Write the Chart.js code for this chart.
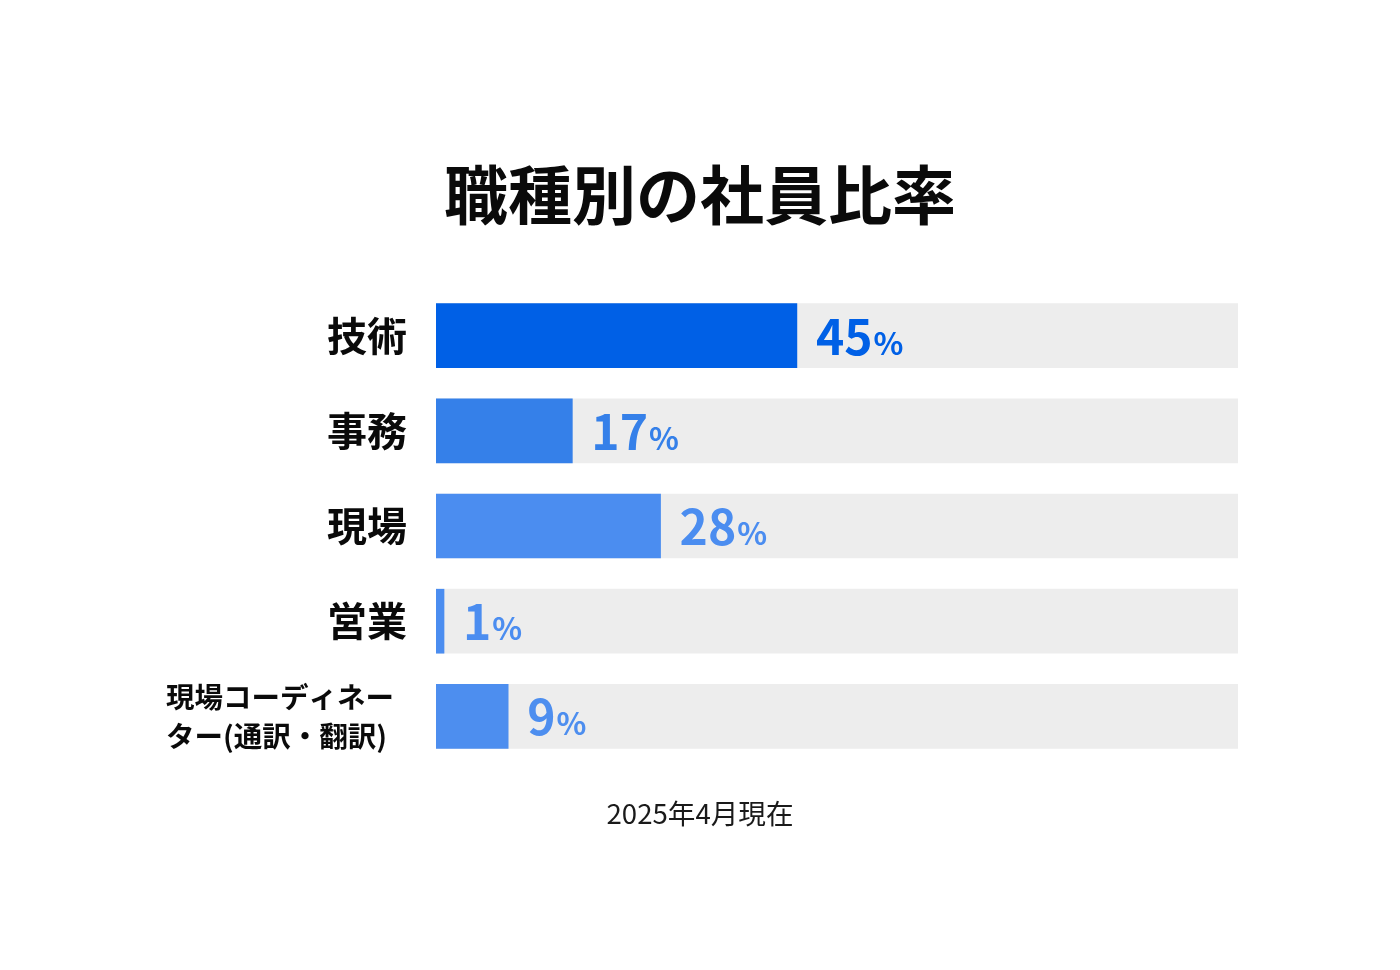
<!DOCTYPE html>
<html lang="ja">
<head>
<meta charset="utf-8">
<title>職種別の社員比率</title>
<script src="https://cdn.jsdelivr.net/npm/chart.js@4"></script>
<style>
  html, body { margin: 0; padding: 0; background: #fff; }
  #wrap { width: 1400px; height: 970px; }
</style>
</head>
<body>
<div id="wrap"><canvas id="chart"></canvas></div>
<script>
// data
const titleText = '職種別の社員比率';
const noteText = '2025年4月現在';
const categories = ['技術', '事務', '現場', '営業', ['現場コーディネー', 'ター(通訳・翻訳)']];
const shares = [45, 17, 28, 1, 9];
const trackMax = [100, 100, 100, 100, 100];
const barColors = ['#0060E6', '#3580E9', '#4B8DF0', '#4B8DF0', '#4D8EEF'];

const FONT = '"Noto Sans CJK JP", "Noto Sans", sans-serif';

// title on top and note below, centred on the whole page
const pageTexts = {
  id: 'pageTexts',
  afterDraw(chart) {
    const ctx = chart.ctx;
    const cx = chart.width / 2;
    ctx.save();
    ctx.textAlign = 'center';
    ctx.textBaseline = 'middle';
    ctx.fillStyle = '#0a0a0a';
    ctx.font = 'bold 64px ' + FONT;
    ctx.fillText(titleText, cx, 195);
    ctx.fillStyle = '#1a1a1a';
    ctx.font = '27.6px ' + FONT;
    ctx.fillText(noteText, cx, 814);
    ctx.restore();
  }
};

// category names to the left of the bars
const categoryLabels = {
  id: 'categoryLabels',
  afterDraw(chart) {
    const ctx = chart.ctx;
    const y = chart.scales.y;
    ctx.save();
    ctx.fillStyle = '#0a0a0a';
    ctx.textBaseline = 'middle';
    categories.forEach((label, i) => {
      const cy = y.getPixelForValue(i);
      if (Array.isArray(label)) {
        ctx.font = 'bold 28.5px ' + FONT;
        ctx.textAlign = 'left';
        const lh = 39;
        const top = cy - (label.length - 1) * lh / 2;
        label.forEach((line, j) => ctx.fillText(line, 166, top + j * lh));
      } else {
        ctx.font = 'bold 40px ' + FONT;
        ctx.textAlign = 'right';
        ctx.fillText(label, 407, cy);
      }
    });
    ctx.restore();
  }
};

// "45%" style labels after each bar
const valueLabels = {
  id: 'valueLabels',
  afterDatasetsDraw(chart) {
    const ctx = chart.ctx;
    const meta = chart.getDatasetMeta(0);
    ctx.save();
    ctx.textAlign = 'left';
    ctx.textBaseline = 'alphabetic';
    meta.data.forEach((bar, i) => {
      const x = bar.x + 19;
      const base = bar.y + 19;
      ctx.fillStyle = barColors[i];
      ctx.font = 'bold 48px ' + FONT;
      const num = String(shares[i]);
      ctx.fillText(num, x, base);
      const w = ctx.measureText(num).width;
      ctx.font = 'bold 31px ' + FONT;
      ctx.fillText('%', x + w + 1, base);
    });
    ctx.restore();
  }
};

new Chart(document.getElementById('chart'), {
  type: 'bar',
  data: {
    labels: categories,
    datasets: [
      {
        label: '比率',
        data: shares,
        backgroundColor: barColors,
        barThickness: 64,
        grouped: false
      },
      {
        label: 'track',
        data: trackMax,
        backgroundColor: '#EDEDED',
        barThickness: 64,
        grouped: false
      }
    ]
  },
  options: {
    indexAxis: 'y',
    responsive: true,
    maintainAspectRatio: false,
    animation: false,
    layout: {
      padding: { left: 436, right: 162, top: 288, bottom: 206 }
    },
    scales: {
      x: { min: 0, max: 100, display: false },
      y: { display: false }
    },
    plugins: {
      legend: { display: false },
      tooltip: { enabled: false },
      title: { display: false }
    }
  },
  plugins: [pageTexts, categoryLabels, valueLabels]
});
</script>
</body>
</html>
